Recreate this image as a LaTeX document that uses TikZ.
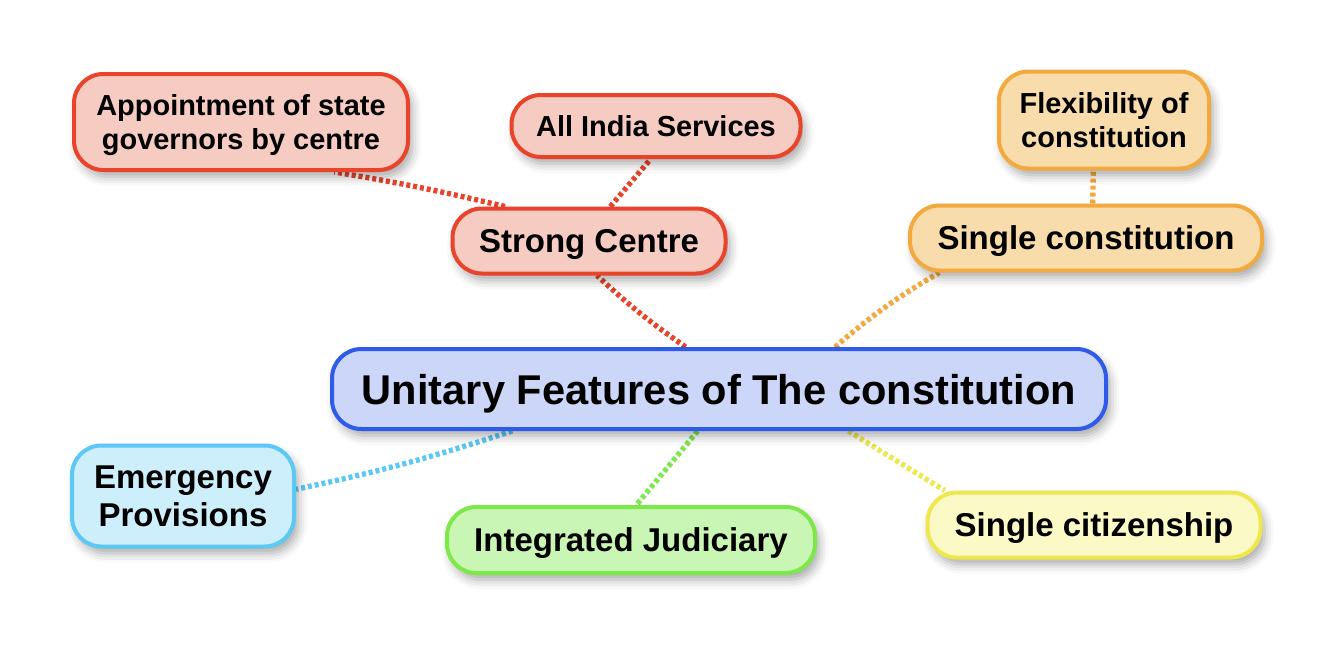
\documentclass[tikz,border=0pt]{standalone}
\usepackage{fontspec}
\setmainfont{Liberation Sans}
\usetikzlibrary{backgrounds,shadows.blur}

\definecolor{redline}{HTML}{E8432B}
\definecolor{redfill}{HTML}{F6CBC2}
\definecolor{blueline}{HTML}{2F5BEA}
\definecolor{bluefill}{HTML}{CCD6F8}
\definecolor{orangeline}{HTML}{F2AA40}
\definecolor{orangefill}{HTML}{F9DCAB}
\definecolor{cyanline}{HTML}{5BC8F5}
\definecolor{cyanfill}{HTML}{CDEFFB}
\definecolor{greenline}{HTML}{7DE84A}
\definecolor{greenfill}{HTML}{C9F6B4}
\definecolor{yellowline}{HTML}{EEE84E}
\definecolor{yellowfill}{HTML}{FBFAC6}

\newcommand\titlesize{\fontsize{31.2pt}{36pt}\selectfont\bfseries}
\newcommand\branchsize{\fontsize{24.75pt}{28pt}\selectfont\bfseries}
\newcommand\leafsize{\fontsize{21.7pt}{26pt}\selectfont\bfseries}

\tikzset{
	feature/.style={draw=#1line, fill=#1fill, line width=3pt, rounded corners=22pt,
		align=center, inner sep=0pt, text depth=0pt,
		blur shadow={shadow xshift=3pt, shadow yshift=-5pt, shadow blur radius=7pt, shadow opacity=35}},
	link/.style={#1line, line width=4pt, dash pattern=on 3pt off 2.2pt}
}

\begin{document}
\begin{tikzpicture}[x=0.75pt, y=-0.75pt]
		%%%%% START %%%%%
		
		\useasboundingbox (0, 0) rectangle (1334, 646);
		
		\node[feature=blue, minimum width=774*0.75pt, minimum height=80*0.75pt, font=\titlesize] (unitary) at (719, 389) {Unitary Features of The constitution};
		
		\node[feature=red, minimum width=273*0.75pt, minimum height=65*0.75pt, font=\branchsize] (strong) at (589, 241) {Strong Centre};
		\node[feature=red, minimum width=289*0.75pt, minimum height=62*0.75pt, font=\leafsize] (services) at (656, 126) {All India Services};
		\node[feature=red, minimum width=334*0.75pt, minimum height=96*0.75pt, font=\leafsize] (governors) at (241, 122) {Appointment of state\\governors by centre};
		
		\node[feature=orange, minimum width=352*0.75pt, minimum height=65*0.75pt, font=\branchsize] (single) at (1086, 238) {Single constitution};
		\node[feature=orange, minimum width=210*0.75pt, minimum height=97*0.75pt, font=\leafsize] (flexible) at (1104, 120) {Flexibility of\\constitution};
		
		\node[feature=cyan, minimum width=222*0.75pt, minimum height=101*0.75pt, font=\branchsize] (emergency) at (183, 496) {Emergency\\Provisions};
		\node[feature=green, minimum width=368*0.75pt, minimum height=66*0.75pt, font=\branchsize] (judiciary) at (631, 540) {Integrated Judiciary};
		\node[feature=yellow, minimum width=333*0.75pt, minimum height=65*0.75pt, font=\branchsize] (citizen) at (1094, 525) {Single citizenship};
		
		\begin{scope}[on background layer]
		\draw[link=red] ([xshift=-25pt]unitary.north) to[bend left=4] ([xshift=6pt]strong.south);
		\draw[link=red] ([xshift=-63pt]strong.north) to[bend right=2] ([xshift=70pt]governors.south);
		\draw[link=red] ([xshift=16pt]strong.north) -- ([xshift=-4pt]services.south);
		
		\draw[link=orange] ([xshift=87pt]unitary.north) to[bend left=5] ([xshift=-110pt]single.south);
		\draw[link=orange] ([xshift=5pt]single.north) -- ([xshift=-8pt]flexible.south);
		
		\draw[link=cyan] ([xshift=-155pt]unitary.south) to[bend left=3] ([yshift=5pt]emergency.east);
		\draw[link=green] ([xshift=-16pt]unitary.south) -- ([xshift=4pt]judiciary.north);
		\draw[link=yellow] ([xshift=97pt]unitary.south) -- ([xshift=-112pt]citizen.north);
		\end{scope}
		
		%%%%% END %%%%%
	\end{tikzpicture}
\end{document}
